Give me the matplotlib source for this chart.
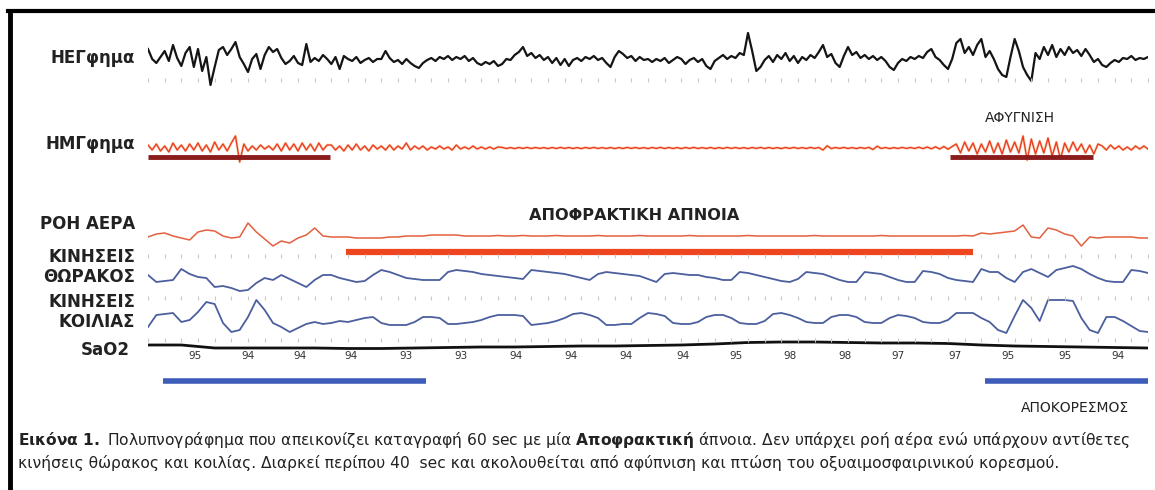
import numpy as np
import matplotlib
matplotlib.use('Agg')
import matplotlib.pyplot as plt
from matplotlib.lines import Line2D

# ---------- données (unités ~pixels, positif = haut) ----------
duree = 60  # sec

eeg = [12, 2, -2, 4, 10, 0, 16, 3, -5, 8, 14, -6, 12, -10, 4, -24, -6, 11, 14, 6,
       12, 19, 4, -3, -11, 2, 7, -8,
       6, 14, 9, 12, 3, -3, 0, 5, -2, -4, 17, -1, 3, 0, 6, 2, -3, 4, -8, 5,
       2, 0, 4, -2, 1, 3, -1, 2,
       2, 10, 3, -1, 1, -3, 2, -2, -5, -7, -2, 1, 3, 0, 4, 2, 5, 1, 4, 2,
       5, 0, 3, -2, -4, -1, -3, 0, -5, -3, 2, 1, 6, 9, 14, 5, 8, 3, 6, 1,
       4, -2, 3, -4, 2, -5, 1, 3, 0, 4, 2, 5, 1, 3, -2, -6, 4, 10, 7, 3,
       5, 0, 4, 1, 2, -1, 2, 0, 3, -2, 1, 4, 2, -3, 1, 3, -1, 2, -5, -8,
       0, 3, 6, 2, 5, 3, 8, 6, 28,
       10, -10, -6, 1, 5, -1, 6, 2, 8, 0, 5, -2, 4, 1, 6, 3, 9, 16, 4, 7,
       -2, -6, 5, 14, 6, 9, 3, 6, 2, 5, 1, 4, 0, -6, -9, -2, 2, 0, 4, 2,
       5, 3, 9, 12, 4, 1, -4, -8,
       2, 18, 22, 8, 14, 6, 16, 22, 4, 10, 2, -8, -14, -16, 4, 22, 10, -6, -14, -20,
       8, 2, 14, 6, 16, 4, 12, 6, 14, 8, 11, 5, 12, 6,
       -1, 2, -4, -6, -2, 1, -1, 3, 2, 5, 1, 3, 2, 4]

emg = [3, -2, 4, -3, 2, -4, 5, -2, 3, -3, 4, -2, 5, -3, 3, -4, 6, -2, 4, -3,
       5, 12, -14, 4, -3, 2, -2, 3, -1, 2, -2, 4, -3, 5, -2, 4, -3, 5, -2, 4,
       -3, 5, -2, 3,
       3, -2, 2, -3, 3, -2, 4, -2, 2, -3, 3, -1, 2, -2, 3, -2, 2, -1, 5, -2,
       2, -1, 2, -2, 1, -1, 2, -1, 1, -2, 3, -1, 1, -1, 2, -1, 1, -1, 1, -1, 1,
       0.6, -0.5, 0.4, -0.6, 0.5, -0.4, 0.6, -0.5, 0.5, -0.4,
       0.4, -0.6, 0.5, -0.5, 0.6, -0.4, 0.5, -0.5, 0.4, -0.6,
       0.5, -0.4, 0.6, -0.5, 0.4, -0.5, 0.5, -0.6, 0.4, -0.5,
       0.6, -0.4, 0.5, -0.5, 0.4, -0.6, 0.5, -0.4, 0.6, -0.5,
       0.5, -0.5, 0.4, -0.6, 0.5, -0.4, 0.6, -0.5, 0.4, -0.5,
       0.5, -0.6, 0.4, -0.5, 0.6, -0.4, 0.5, -0.5, 0.4, -0.6,
       0.5, -0.4, 0.6, -0.5, 0.5, -0.5, 0.4, -0.6, 0.5, -0.4,
       0.6, -0.5, 0.4, -0.5, 0.6, -0.4, 0.5, -2.0, 2.2, -0.6,
       0.5, -0.4, 0.6, -0.5, 0.4, -0.6, 0.5, -0.4, 0.6, -1.5,
       1.8, -0.5, 0.5, -0.6, 0.4, -0.5, 0.6, -0.4, 0.5, -0.5,
       0.8, -0.6, 1.0, -0.8, 1.2, -1.0, 1.5, -1.2, 1.5,
       4, -5, 6, -3, 5, -6, 4, -4, 7, -5, 5, -6, 8, -4, 6, -5, 12, -12, 9, -6,
       7, -5, 10, -8, 6, -11, 5, -4, 6, -3, 4, -5, 3, -6, 4,
       2, -2, 3, -1, 2, -2, 1, -2, 2, -1, 2, -1]

roh_aera = [-1, 2, 3, 0, -2, -4, 4, 6, 5, 0, -2, -1, 13, 4, -3, -10, -5, -7, -2, 1,
            8, 0, -1, -1, -1, -2, -2, -2, -2, -1, -1, 0, 0, 0, 1, 1, 1, 1, 0, 0,
            0, 0, 0.5, 0, 0, 0.5, 0, 0, 0, 0.5, 0, 0, 0, 0, 0.5, 0, 0, 0, 0, 0.5,
            0, 0, 0, 0, 0, 0.5, 0, 0, 0, 0, 0, 0, 0.5, 0, 0, 0, 0, 0, 0, 0,
            0.5, 0, 0, 0, 0, 0, 0, 0, 0.5, 0, 0, 0, 0, 0, 0, 0, 0, 0, 0.5, 0,
            3, 2, 3, 4, 5, 11, -1, -2, 8, 6, 2, 0, -10, -1, -2, -1, -1, -1, -1, -2, -2]

thorax = [2, -5, -4, -3, 8, 3, 0, -1, -10, -9, -11, -14, -13, -6, -1, -3, 2, -2, -6, -10,
          -3, 2, 2, -1, -3, -5, -4, 2, 7, 5, 2, -1, -2, -3, -3, -3, 5, 7, 6, 5,
          3, 2, 1, 0, -1, -2, 7, 6, 5, 4, 3, 1, -1, -3, 3, 5, 4, 3, 2, 1,
          -2, -5, 3, 4, 3, 2, 2, 0, -1, -3, -3, 5, 4, 2, 0, -2, -4, -5, -2, 5,
          4, 3, 0, -3, -5, -5, 5, 4, 3, 0, -3, -5, -5, 6, 5, 3, -1, -3, -4, -5,
          8, 5, 5, -1, -5, 5, 8, 4, 0, 7, 9, 11, 8, 3, -1, -4, -5, -5, 7, 6, 4]

koilia = [-9, 3, 4, 5, -4, -2, 6, 16, 14, -5, -14, -12, 1, 18, 8, -5, -9, -14, -10, -6,
          -4, -6, -5, -3, -4, -2, 0, 1, -5, -7, -7, -7, -4, 1, 1, 0, -6, -6, -5, -4,
          -2, 1, 3, 3, 3, 2, -7, -6, -5, -3, 0, 4, 5, 3, 0, -7, -7, -6, -6, 0,
          5, 4, 2, -5, -6, -6, -4, 1, 3, 3, 0, -5, -6, -6, -3, 4, 5, 3, 0, -4,
          -5, -5, 1, 3, 3, 1, -4, -5, -5, 0, 3, 2, 0, -4, -5, -5, -2, 5, 5, 5,
          0, -4, -12, -15, 2, 18, 10, -3, 18, 18, 18, 17, 0, -12, -15, 1, 1, -3, -8, -13, -14]

sao2_courbe = [3, 3, 0, 0, 0, 0, -0.5, -0.5, 0, 0.5, 1, 1, 1.5, 2, 2, 2.5, 3, 4, 5.5, 6,
               6, 5.5, 5, 5, 4.5, 3, 2, 1.5, 1, 0.5, 0]

sao2_valeurs = [95, 94, 94, 94, 93, 93, 94, 94, 94, 94, 95, 98, 98, 97, 97, 95, 95, 94]
sao2_temps = [2.8, 6.0, 9.1, 12.2, 15.5, 18.8, 22.1, 25.4, 28.7, 32.1, 35.3, 38.5,
              41.8, 45.0, 48.4, 51.6, 55.0, 58.2]

afypnisi = [(0.0, 10.9), (48.1, 56.7)]   # barres bordeaux sous ΗΜΓ
apnoia = [(11.9, 49.5)]                  # barre rouge
apokoresmos = [(0.9, 16.7), (50.2, 60.0)]  # barres bleues

# ---------- mise en page ----------
W, H = 1155, 490
fig = plt.figure(figsize=(W / 100, H / 100), dpi=100)
fig.patch.set_facecolor('white')


def boite(y0, y1, x0=148, x1=1148):
    return [x0 / W, 1 - y1 / H, (x1 - x0) / W, (y1 - y0) / H]


def canal(y0, y1, centre):
    ax = fig.add_axes(boite(y0, y1))
    ax.set_xlim(0, duree)
    ax.set_ylim(-(y1 - centre), centre - y0)
    ax.axis('off')
    return ax


def t_de(serie):
    return np.linspace(0, duree, len(serie))


def points_gris(ax, niveau):
    sec = np.arange(0, duree + 1, 1)
    ax.plot(sec, np.full(len(sec), niveau), '|', color='#c8c8c8', markersize=3, mew=0.8)


# ΗΕΓφημα
ax_eeg = canal(25, 97, 61)
ax_eeg.plot(t_de(eeg), eeg, color='#151515', lw=1.6)
points_gris(ax_eeg, -19)

# ΗΜΓφημα
ax_emg = canal(128, 168, 148)
ax_emg.plot(t_de(emg), emg, color='#f6b26b', lw=2.0, alpha=0.45)
ax_emg.plot(t_de(emg), emg, color='#ec3b24', lw=1.0)
for a, b in afypnisi:
    ax_emg.plot([a, b], [-9, -9], color='#8a1c1c', lw=3.5, solid_capstyle='butt')

# ΡΟΗ ΑΕΡΑ
ax_air = canal(216, 258, 236)
ax_air.plot(t_de(roh_aera), roh_aera, color='#e2603f', lw=1.1)
for a, b in apnoia:
    ax_air.plot([a, b], [-16, -16], color='#ec4520', lw=4.5, solid_capstyle='butt')
points_gris(ax_air, -20)

# ΘΩΡΑΚΟΣ
ax_th = canal(257, 297, 277)
ax_th.plot(t_de(thorax), thorax, color='#4b5f9e', lw=1.3)

# ΚΟΙΛΙΑΣ
ax_ko = canal(294, 342, 318)
ax_ko.plot(t_de(koilia), koilia, color='#4b5f9e', lw=1.3)
points_gris(ax_ko, 20)

# SaO2
ax_sa = canal(330, 395, 348)
ax_sa.plot(t_de(sao2_courbe), sao2_courbe, color='#111111', lw=2)
points_gris(ax_sa, 8)
for t, v in zip(sao2_temps, sao2_valeurs):
    ax_sa.text(t, -8, str(v), ha='center', va='center', fontsize=7.5,
               family=['Liberation Sans Narrow', 'DejaVu Sans'], color='#333333')
for a, b in apokoresmos:
    ax_sa.plot([a, b], [-33, -33], color='#3d5db8', lw=4, solid_capstyle='butt')

# ---------- textes ----------
def texte(x, y, s, **kw):
    fig.text(x / W, 1 - y / H, s, **kw)


lab = dict(ha='right', va='center', fontsize=12, fontweight='bold', color='#222222')
texte(135, 58, 'ΗΕΓφημα', **lab)
texte(135, 144, 'ΗΜΓφημα', **lab)
texte(135, 224, 'ΡΟΗ ΑΕΡΑ', **lab)
texte(135, 257, 'ΚΙΝΗΣΕΙΣ', **lab)
texte(135, 277, 'ΘΩΡΑΚΟΣ', **lab)
texte(135, 302, 'ΚΙΝΗΣΕΙΣ', **lab)
texte(135, 322, 'ΚΟΙΛΙΑΣ', **lab)
texte(130, 350, 'SaO2', **lab)

texte(634, 215, 'ΑΠΟΦΡΑΚΤΙΚΗ ΑΠΝΟΙΑ', ha='center', va='center', fontsize=11.6,
      fontweight='bold', color='#222222')
texte(1020, 118, 'ΑΦΥΓΝΙΣΗ', ha='center', va='center', fontsize=10,
      family=['Liberation Sans Narrow', 'DejaVu Sans'], color='#222222')
texte(1075, 408, 'ΑΠΟΚΟΡΕΣΜΟΣ', ha='center', va='center', fontsize=10,
      family=['Liberation Sans Narrow', 'DejaVu Sans'], color='#222222')

cap = dict(ha='left', va='center', fontsize=11.2,
           family=['Liberation Sans Narrow', 'DejaVu Sans'], color='#222222')
fig.text(18 / W, 1 - 440 / H,
         r'$\bf{Εικόνα\ 1.}$' + ' Πολυπνογράφημα που απεικονίζει καταγραφή 60 sec με μία '
         + r'$\bf{Αποφρακτική}$' + ' άπνοια. Δεν υπάρχει ροή αέρα ενώ υπάρχουν αντίθετες',
         **cap)
texte(18, 463, 'κινήσεις θώρακος και κοιλίας. Διαρκεί περίπου 40  sec και ακολουθείται '
      'από αφύπνιση και πτώση του οξυαιμοσφαιρινικού κορεσμού.', **cap)

# cadre noir (gauche + haut)
fig.add_artist(Line2D([10 / W, 10 / W], [0, 1 - 11 / H], color='black', lw=3.5,
                      transform=fig.transFigure))
fig.add_artist(Line2D([8 / W, 1], [1 - 11.5 / H, 1 - 11.5 / H], color='black', lw=3,
                      transform=fig.transFigure))

plt.savefig('out.png', dpi=100)
print("Graphe 'out.png' sauvegardé!")
